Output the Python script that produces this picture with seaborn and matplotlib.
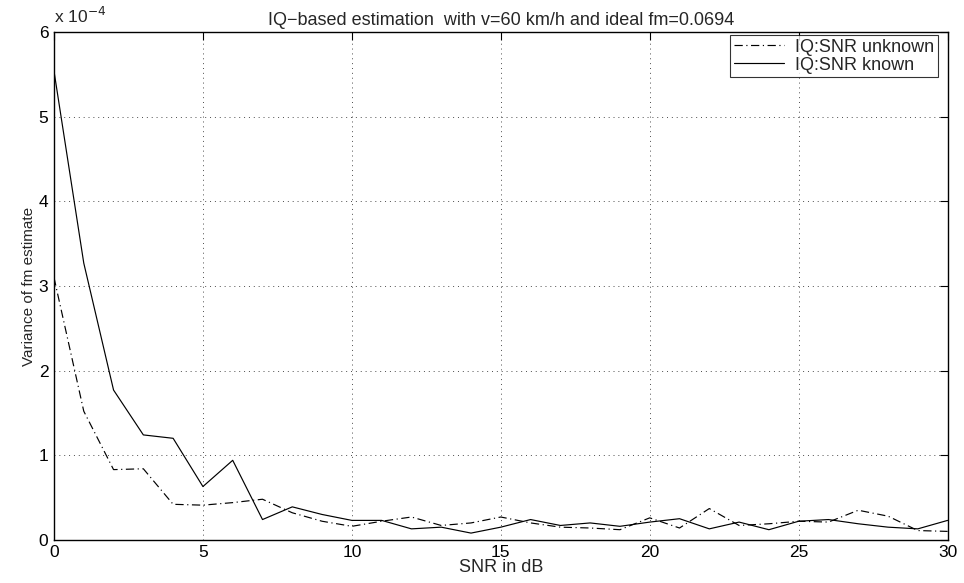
import numpy as np
import pandas as pd
import matplotlib
matplotlib.use("Agg")
import matplotlib.pyplot as plt
import seaborn as sns

snr_db = list(range(31))
var_unknown = [3.10, 1.52, 0.83, 0.84, 0.42, 0.41, 0.44, 0.48, 0.32, 0.22,
               0.16, 0.22, 0.27, 0.17, 0.20, 0.27, 0.20, 0.15, 0.14, 0.12,
               0.26, 0.14, 0.37, 0.17, 0.19, 0.22, 0.21, 0.35, 0.28, 0.11, 0.10]
var_known = [5.54, 3.27, 1.77, 1.24, 1.20, 0.63, 0.94, 0.24, 0.39, 0.30,
             0.23, 0.23, 0.13, 0.15, 0.08, 0.15, 0.24, 0.17, 0.20, 0.16,
             0.21, 0.25, 0.13, 0.21, 0.12, 0.22, 0.24, 0.19, 0.15, 0.13, 0.23]
series_names = ["IQ:SNR unknown", "IQ:SNR known"]

df = pd.DataFrame({
    "snr": snr_db * 2,
    "var": [v * 1e-4 for v in var_unknown + var_known],
    "series": [series_names[0]] * 31 + [series_names[1]] * 31,
})

sns.set_style("white")
plt.rcParams["font.family"] = ["Liberation Sans", "DejaVu Sans"]

fig = plt.figure(figsize=(9.64, 5.83), dpi=100)
ax = fig.add_axes([0.056, 0.074, 0.927, 0.871])

sns.lineplot(data=df, x="snr", y="var", hue="series", style="series",
             palette={series_names[0]: "black", series_names[1]: "black"},
             dashes={series_names[0]: (7, 3, 1, 3), series_names[1]: ""},
             linewidth=0.85, ax=ax, legend=True)

ax.set_xlim(0, 30)
ax.set_ylim(0, 6e-4)
ax.set_xticks([0, 5, 10, 15, 20, 25, 30])
ax.set_yticks([i * 1e-4 for i in range(7)])
ax.set_yticklabels([str(i) for i in range(7)])
ax.grid(True, linestyle=(0, (1, 4)), color="black", linewidth=0.7, alpha=0.7)
for s in ax.spines.values():
    s.set_color("black")
    s.set_linewidth(1.0)
    s.set_visible(True)
ax.tick_params(direction="in", top=True, right=True, length=6, width=0.8,
               labelsize=12.5, colors="black", pad=4)
ax.set_xlabel("SNR in dB", fontsize=13, labelpad=-1)
ax.set_ylabel("Variance of fm estimate", fontsize=11, labelpad=2)
ax.set_title("IQ\u2212based estimation  with v=60 km/h and ideal fm=0.0694",
             fontsize=13, pad=5)
ax.text(0.0, 1.012, "x 10$^{-4}$", transform=ax.transAxes, fontsize=12.5,
        ha="left", va="bottom")

leg = ax.legend(loc="upper right", bbox_to_anchor=(0.989, 0.994),
                fontsize=13, frameon=True, fancybox=False,
                borderpad=0.2, handlelength=2.8, handletextpad=0.6,
                labelspacing=0.05, borderaxespad=0.0)
leg.get_frame().set_edgecolor("black")
leg.get_frame().set_linewidth(0.8)

fig.savefig("out.png", dpi=100)
